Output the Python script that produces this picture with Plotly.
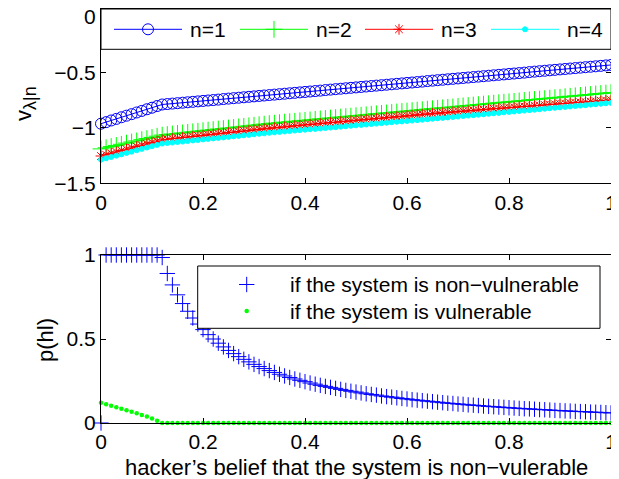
import plotly.graph_objects as go

# ---------------- data ----------------
belief = [0.00, 0.01, 0.02, 0.03, 0.04, 0.05, 0.06, 0.07, 0.08, 0.09,
          0.10, 0.11, 0.12, 0.13, 0.14, 0.15, 0.16, 0.17, 0.18, 0.19,
          0.20, 0.21, 0.22, 0.23, 0.24, 0.25, 0.26, 0.27, 0.28, 0.29,
          0.30, 0.31, 0.32, 0.33, 0.34, 0.35, 0.36, 0.37, 0.38, 0.39,
          0.40, 0.41, 0.42, 0.43, 0.44, 0.45, 0.46, 0.47, 0.48, 0.49,
          0.50, 0.51, 0.52, 0.53, 0.54, 0.55, 0.56, 0.57, 0.58, 0.59,
          0.60, 0.61, 0.62, 0.63, 0.64, 0.65, 0.66, 0.67, 0.68, 0.69,
          0.70, 0.71, 0.72, 0.73, 0.74, 0.75, 0.76, 0.77, 0.78, 0.79,
          0.80, 0.81, 0.82, 0.83, 0.84, 0.85, 0.86, 0.87, 0.88, 0.89,
          0.90, 0.91, 0.92, 0.93, 0.94, 0.95, 0.96, 0.97, 0.98, 0.99, 1.00]

v_n1 = [-0.963, -0.949, -0.934, -0.920, -0.905, -0.891, -0.877, -0.862, -0.848, -0.833,
        -0.819, -0.804, -0.790, -0.786, -0.782, -0.778, -0.774, -0.770, -0.766, -0.762,
        -0.758, -0.754, -0.750, -0.746, -0.741, -0.737, -0.733, -0.729, -0.725, -0.721,
        -0.717, -0.713, -0.709, -0.705, -0.701, -0.697, -0.693, -0.689, -0.685, -0.681,
        -0.677, -0.673, -0.669, -0.665, -0.660, -0.656, -0.652, -0.648, -0.644, -0.640,
        -0.636, -0.632, -0.628, -0.624, -0.620, -0.616, -0.612, -0.608, -0.604, -0.600,
        -0.596, -0.592, -0.588, -0.584, -0.579, -0.575, -0.571, -0.567, -0.563, -0.559,
        -0.555, -0.551, -0.547, -0.543, -0.539, -0.535, -0.531, -0.527, -0.523, -0.519,
        -0.515, -0.511, -0.507, -0.503, -0.498, -0.494, -0.490, -0.486, -0.482, -0.478,
        -0.474, -0.470, -0.466, -0.462, -0.458, -0.454, -0.450, -0.446, -0.442, -0.438, -0.434]

v_n2 = [-1.190, -1.180, -1.169, -1.159, -1.149, -1.138, -1.128, -1.118, -1.107, -1.097,
        -1.087, -1.076, -1.066, -1.061, -1.056, -1.051, -1.046, -1.041, -1.036, -1.031,
        -1.026, -1.021, -1.016, -1.011, -1.007, -1.002, -0.997, -0.992, -0.987, -0.982,
        -0.977, -0.972, -0.967, -0.962, -0.958, -0.954, -0.949, -0.945, -0.941, -0.937,
        -0.933, -0.929, -0.924, -0.920, -0.916, -0.912, -0.908, -0.903, -0.899, -0.895,
        -0.891, -0.887, -0.883, -0.878, -0.874, -0.870, -0.866, -0.862, -0.857, -0.853,
        -0.849, -0.845, -0.841, -0.837, -0.832, -0.828, -0.824, -0.820, -0.816, -0.812,
        -0.807, -0.803, -0.799, -0.795, -0.791, -0.787, -0.783, -0.778, -0.774, -0.770,
        -0.766, -0.762, -0.758, -0.754, -0.749, -0.745, -0.741, -0.737, -0.733, -0.729,
        -0.725, -0.720, -0.716, -0.712, -0.708, -0.704, -0.700, -0.695, -0.691, -0.687, -0.683]

v_n3 = [-1.254, -1.242, -1.230, -1.217, -1.205, -1.193, -1.181, -1.169, -1.157, -1.144,
        -1.132, -1.120, -1.108, -1.103, -1.098, -1.093, -1.088, -1.083, -1.078, -1.073,
        -1.068, -1.063, -1.058, -1.053, -1.048, -1.043, -1.038, -1.033, -1.028, -1.023,
        -1.018, -1.013, -1.008, -1.003, -0.999, -0.995, -0.991, -0.986, -0.982, -0.978,
        -0.974, -0.970, -0.966, -0.961, -0.957, -0.953, -0.949, -0.945, -0.941, -0.937,
        -0.932, -0.928, -0.924, -0.920, -0.916, -0.912, -0.907, -0.903, -0.899, -0.895,
        -0.891, -0.887, -0.882, -0.878, -0.874, -0.870, -0.866, -0.863, -0.859, -0.856,
        -0.852, -0.849, -0.846, -0.842, -0.839, -0.835, -0.832, -0.828, -0.825, -0.822,
        -0.818, -0.815, -0.811, -0.808, -0.805, -0.801, -0.798, -0.794, -0.791, -0.787,
        -0.784, -0.781, -0.777, -0.774, -0.770, -0.767, -0.764, -0.760, -0.757, -0.753, -0.750]

v_n4 = [-1.287, -1.275, -1.263, -1.251, -1.239, -1.227, -1.215, -1.202, -1.190, -1.178,
        -1.166, -1.154, -1.142, -1.137, -1.133, -1.128, -1.124, -1.119, -1.114, -1.110,
        -1.105, -1.100, -1.096, -1.091, -1.087, -1.082, -1.077, -1.073, -1.068, -1.064,
        -1.059, -1.054, -1.050, -1.045, -1.041, -1.037, -1.033, -1.029, -1.025, -1.021,
        -1.017, -1.013, -1.010, -1.006, -1.002, -0.998, -0.994, -0.990, -0.986, -0.982,
        -0.978, -0.974, -0.970, -0.966, -0.962, -0.958, -0.954, -0.950, -0.946, -0.943,
        -0.939, -0.935, -0.931, -0.927, -0.923, -0.919, -0.915, -0.911, -0.907, -0.903,
        -0.899, -0.894, -0.890, -0.886, -0.882, -0.878, -0.874, -0.870, -0.866, -0.861,
        -0.857, -0.853, -0.849, -0.845, -0.841, -0.837, -0.833, -0.828, -0.824, -0.820,
        -0.816, -0.812, -0.808, -0.804, -0.800, -0.796, -0.791, -0.787, -0.783, -0.779, -0.775]

p_nonvuln = [0.000, 1.000, 1.000, 1.000, 1.000, 1.000, 1.000, 1.000, 1.000, 1.000,
             1.000, 1.000, 0.985, 0.890, 0.822, 0.763, 0.711, 0.665, 0.625, 0.589,
             0.556, 0.526, 0.500, 0.475, 0.453, 0.432, 0.413, 0.395, 0.379, 0.364,
             0.349, 0.336, 0.324, 0.312, 0.301, 0.290, 0.280, 0.271, 0.262, 0.254,
             0.246, 0.238, 0.231, 0.224, 0.218, 0.212, 0.206, 0.200, 0.194, 0.189,
             0.184, 0.179, 0.174, 0.170, 0.166, 0.161, 0.157, 0.154, 0.150, 0.146,
             0.143, 0.139, 0.136, 0.133, 0.130, 0.127, 0.124, 0.121, 0.118, 0.116,
             0.113, 0.111, 0.108, 0.106, 0.104, 0.101, 0.099, 0.097, 0.095, 0.093,
             0.091, 0.089, 0.087, 0.085, 0.084, 0.082, 0.080, 0.079, 0.077, 0.075,
             0.074, 0.072, 0.071, 0.069, 0.068, 0.067, 0.065, 0.064, 0.063, 0.061, 0.060]

p_vuln = [0.121, 0.112, 0.103, 0.094, 0.085, 0.076, 0.067, 0.058, 0.048, 0.038,
          0.027, 0.013, 0.000, 0.000, 0.000, 0.000, 0.000, 0.000, 0.000, 0.000,
          0.000, 0.000, 0.000, 0.000, 0.000, 0.000, 0.000, 0.000, 0.000, 0.000,
          0.000, 0.000, 0.000, 0.000, 0.000, 0.000, 0.000, 0.000, 0.000, 0.000,
          0.000, 0.000, 0.000, 0.000, 0.000, 0.000, 0.000, 0.000, 0.000, 0.000,
          0.000, 0.000, 0.000, 0.000, 0.000, 0.000, 0.000, 0.000, 0.000, 0.000,
          0.000, 0.000, 0.000, 0.000, 0.000, 0.000, 0.000, 0.000, 0.000, 0.000,
          0.000, 0.000, 0.000, 0.000, 0.000, 0.000, 0.000, 0.000, 0.000, 0.000,
          0.000, 0.000, 0.000, 0.000, 0.000, 0.000, 0.000, 0.000, 0.000, 0.000,
          0.000, 0.000, 0.000, 0.000, 0.000, 0.000, 0.000, 0.000, 0.000, 0.000, 0.000]

top_names = ["n=1", "n=2", "n=3", "n=4"]
bottom_names = ["if the system is non\u2212vulnerable", "if the system is vulnerable"]

x_tickvals = [0, 0.2, 0.4, 0.6, 0.8, 1]
x_ticktext = ["0", "0.2", "0.4", "0.6", "0.8", "1"]
top_y_tickvals = [-1.5, -1, -0.5, 0]
top_y_ticktext = ["\u22121.5", "\u22121", "\u22120.5", "0"]
bot_y_tickvals = [0, 0.5, 1]
bot_y_ticktext = ["0", "0.5", "1"]

x_title = "hacker\u2019s belief that the system is non\u2212vulerable"
top_y_title = "v<sub><span style='font-size:18px'>\u03bb|n</span></sub>"
bot_y_title = "p(hl)"

# ---------------- layout helpers (screen pixel -> paper) ----------------
# The page body adds an 8 px offset, so the figure is shrunk and shifted.
OFF = 8
SCREEN_W, SCREEN_H = 619, 479
W, H = SCREEN_W - OFF, SCREEN_H - OFF
PX_L, PX_R, PX_T, PX_B = 101, 611, 9, 423  # plot-area edges on screen


def fx(px):
    return (px - PX_L) / (PX_R - PX_L)


def fy(py):
    return (PX_B - py) / (PX_B - PX_T)


FONT = "Liberation Sans, Arial, Helvetica, sans-serif"
FS = 21

BLUE = "rgb(0,0,255)"
GREEN = "rgb(0,255,0)"
RED = "rgb(255,0,0)"
CYAN = "rgb(0,255,255)"

top_styles = [
    dict(color=BLUE, symbol="circle-open", size=11),
    dict(color=GREEN, symbol="cross-thin-open", size=12),
    dict(color=RED, symbol="asterisk-open", size=9),
    dict(color=CYAN, symbol="circle", size=5),
]
top_series = [v_n1, v_n2, v_n3, v_n4]

fig = go.Figure()

for name, ys, st in zip(top_names, top_series, top_styles):
    fig.add_trace(go.Scatter(
        x=belief, y=ys, name=name, mode="lines+markers",
        line=dict(color=st["color"], width=1),
        marker=dict(symbol=st["symbol"], size=st["size"], color=st["color"],
                    line=dict(color=st["color"], width=1)),
        cliponaxis=False, xaxis="x", yaxis="y", showlegend=False,
    ))

fig.add_trace(go.Scatter(
    x=belief, y=p_nonvuln, name=bottom_names[0], mode="markers",
    marker=dict(symbol="cross-thin-open", size=11, color=BLUE, line=dict(color=BLUE, width=1)),
    cliponaxis=False, xaxis="x2", yaxis="y2", showlegend=False,
))
fig.add_trace(go.Scatter(
    x=belief, y=p_vuln, name=bottom_names[1], mode="markers",
    marker=dict(symbol="circle", size=4.5, color=GREEN),
    cliponaxis=False, xaxis="x2", yaxis="y2", showlegend=False,
))

# ---------------- custom legends (drawn on a hidden overlay axis) ----------------
def box_trace(x0, y0, x1, y1):
    return go.Scatter(
        x=[fx(x0), fx(x1), fx(x1), fx(x0), fx(x0)],
        y=[fy(y0), fy(y0), fy(y1), fy(y1), fy(y0)],
        mode="lines", fill="toself", fillcolor="white",
        line=dict(color="black", width=1), xaxis="x3", yaxis="y3",
        showlegend=False, hoverinfo="skip", cliponaxis=False,
    )


fig.add_trace(box_trace(PX_L, PX_T, PX_R, 49.3))
leg_row_y = 29.3
leg_starts = [114, 240, 365, 491]
LEG_LEN = 68
annotations = []
for name, st, L in zip(top_names, top_styles, leg_starts):
    fig.add_trace(go.Scatter(
        x=[fx(L), fx(L + LEG_LEN)], y=[fy(leg_row_y)] * 2, mode="lines",
        line=dict(color=st["color"], width=1), xaxis="x3", yaxis="y3",
        showlegend=False, hoverinfo="skip", cliponaxis=False,
    ))
    fig.add_trace(go.Scatter(
        x=[fx(L + LEG_LEN / 2)], y=[fy(leg_row_y)], mode="markers",
        marker=dict(symbol=st["symbol"], size=st["size"], color=st["color"],
                    line=dict(color=st["color"], width=1)),
        xaxis="x3", yaxis="y3", showlegend=False, hoverinfo="skip", cliponaxis=False,
    ))
    annotations.append(dict(x=fx(L + 74), y=fy(leg_row_y), xref="paper", yref="paper",
                            text=name, showarrow=False, xanchor="left", yanchor="middle",
                            font=dict(family=FONT, size=FS, color="black")))

fig.add_trace(box_trace(197.7, 266, 600, 328.3))
bot_rows = [284.5, 311]
fig.add_trace(go.Scatter(
    x=[fx(246.7)], y=[fy(bot_rows[0])], mode="markers",
    marker=dict(symbol="cross-thin-open", size=11, color=BLUE, line=dict(color=BLUE, width=1)),
    xaxis="x3", yaxis="y3", showlegend=False, hoverinfo="skip", cliponaxis=False,
))
fig.add_trace(go.Scatter(
    x=[fx(246.7)], y=[fy(bot_rows[1])], mode="markers",
    marker=dict(symbol="circle", size=4.5, color=GREEN),
    xaxis="x3", yaxis="y3", showlegend=False, hoverinfo="skip", cliponaxis=False,
))
for name, ry in zip(bottom_names, bot_rows):
    annotations.append(dict(x=fx(288), y=fy(ry), xref="paper", yref="paper",
                            text=name, showarrow=False, xanchor="left", yanchor="middle",
                            font=dict(family=FONT, size=FS, color="black")))

# axis titles
annotations.append(dict(x=fx(356.5), y=fy(467), xref="paper", yref="paper", text=x_title,
                        showarrow=False, xanchor="center", yanchor="middle",
                        font=dict(family=FONT, size=22, color="black")))
annotations.append(dict(x=fx(25), y=fy(104), xref="paper", yref="paper", text=top_y_title,
                        showarrow=False, xanchor="center", yanchor="middle", textangle=-90,
                        font=dict(family=FONT, size=22, color="black")))
annotations.append(dict(x=fx(45), y=fy(340), xref="paper", yref="paper", text=bot_y_title,
                        showarrow=False, xanchor="center", yanchor="middle", textangle=-90,
                        font=dict(family=FONT, size=22, color="black")))

axis_common = dict(showline=True, linecolor="black", linewidth=1, mirror="ticks",
                   ticks="inside", ticklen=5, tickwidth=1, tickcolor="black",
                   showgrid=False, zeroline=False, automargin=False,
                   ticklabeloverflow="allow",
                   tickfont=dict(family=FONT, size=FS, color="black"))

top_ymax = -1.5 + (183.3 - PX_T) / 111.0

fig.update_layout(
    width=W, height=H,
    margin=dict(l=PX_L - OFF, r=SCREEN_W - PX_R, t=PX_T - OFF, b=SCREEN_H - PX_B,
                autoexpand=False),
    paper_bgcolor="white", plot_bgcolor="rgba(0,0,0,0)",
    showlegend=False,
    xaxis=dict(domain=[0, 1], range=[0, 1], anchor="y",
               tickvals=x_tickvals, ticktext=x_ticktext, **axis_common),
    yaxis=dict(domain=[fy(183.3), 1], range=[-1.5, top_ymax], anchor="x",
               tickvals=top_y_tickvals, ticktext=top_y_ticktext, **axis_common),
    xaxis2=dict(domain=[0, 1], range=[0, 1], anchor="y2",
                tickvals=x_tickvals, ticktext=x_ticktext, **axis_common),
    yaxis2=dict(domain=[0, fy(255)], range=[0, 1], anchor="x2",
                tickvals=bot_y_tickvals, ticktext=bot_y_ticktext, **axis_common),
    xaxis3=dict(domain=[0, 1], range=[0, 1], anchor="y3", visible=False,
                fixedrange=True, automargin=False),
    yaxis3=dict(domain=[0, 1], range=[0, 1], anchor="x3", visible=False,
                fixedrange=True, automargin=False),
    annotations=annotations,
    font=dict(family=FONT, size=FS, color="black"),
)

fig.write_html("out.html")
